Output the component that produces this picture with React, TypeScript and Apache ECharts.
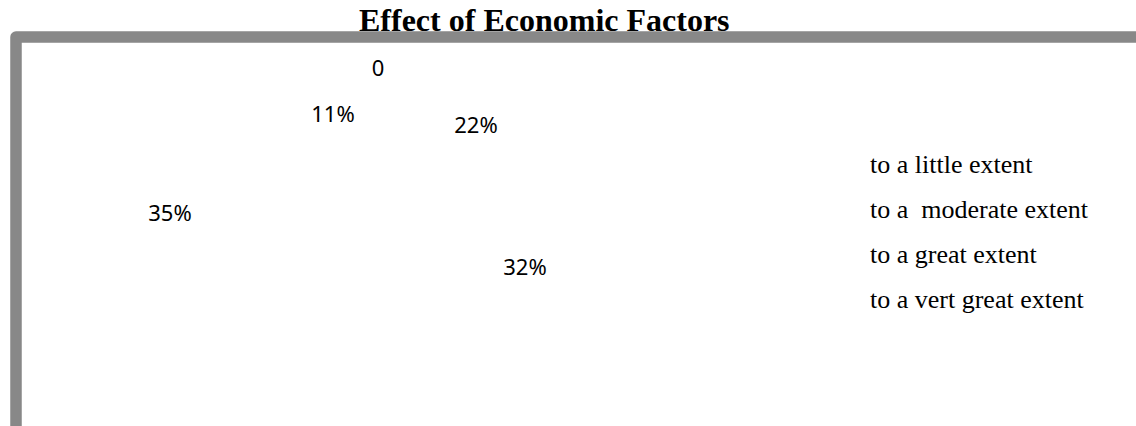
import React, { useEffect, useRef } from "react";
import * as echarts from "echarts";

const titleText = "Effect of Economic Factors";
const categories = [
  "to a little extent",
  "to a  moderate extent",
  "to a great extent",
  "to a vert great extent",
];
const values = [11, 22, 32, 35];
// an extra zero-valued point shown as "0" in the original chart
const zeroPointName = "(blank)";
const zeroPointValue = 0;

// label anchor positions (layout only), in the order of the series data below
const labelPositions: [number, number][] = [
  [378, 67],
  [333, 113],
  [476, 123.5],
  [525, 265.5],
  [170, 211.5],
];

export default function App() {
  const ref = useRef<HTMLDivElement>(null);
  useEffect(() => {
    if (!ref.current) return;
    const chart = echarts.init(ref.current, undefined, { renderer: "svg" });
    const data = [
      { name: zeroPointName, value: zeroPointValue },
      ...categories.map((c, i) => ({ name: c, value: values[i] })),
    ];
    chart.setOption({
      animation: false,
      backgroundColor: "#ffffff",
      title: {
        text: titleText,
        left: 359,
        top: 4,
        padding: 0,
        textStyle: {
          fontFamily: "Liberation Serif",
          fontWeight: "bold",
          fontSize: 32,
          lineHeight: 32,
          color: "#000",
        },
        z: 10,
      },
      legend: {
        data: categories,
        orient: "vertical",
        left: 865,
        top: 149,
        padding: 0,
        itemWidth: 0,
        itemHeight: 30,
        itemGap: 15,
        icon: "rect",
        itemStyle: { color: "rgba(0,0,0,0)" },
        textStyle: {
          fontFamily: "Liberation Serif",
          fontSize: 26,
          lineHeight: 30,
          color: "#000",
        },
      },
      graphic: [
        {
          type: "rect",
          shape: { x: 16, y: 37, width: 1300, height: 600, r: 0 },
          style: {
            fill: "none",
            stroke: "#888888",
            lineWidth: 11.5,
            lineJoin: "round",
          },
          z: 0,
          silent: true,
        },
      ],
      series: [
        {
          type: "pie",
          center: [370, 220],
          radius: 150,
          startAngle: 90,
          avoidLabelOverlap: false,
          itemStyle: { color: "rgba(0,0,0,0)", borderWidth: 0 },
          emphasis: { disabled: true },
          label: {
            show: true,
            position: "inside",
            formatter: (p: any) => (p.value === 0 ? "0" : p.value + "%"),
            fontFamily: "Noto Sans",
            fontSize: 22,
            color: "#000",
          },
          labelLine: { show: false },
          labelLayout: (params: any) => {
            const pos = labelPositions[params.dataIndex];
            return {
              x: pos[0],
              y: pos[1],
              align: "center",
              verticalAlign: "middle",
            };
          },
          data,
        },
      ],
    });
    return () => chart.dispose();
  }, []);
  return (
    <div
      ref={ref}
      style={{ position: "absolute", left: 0, top: 0, width: 1136, height: 426 }}
    />
  );
}
